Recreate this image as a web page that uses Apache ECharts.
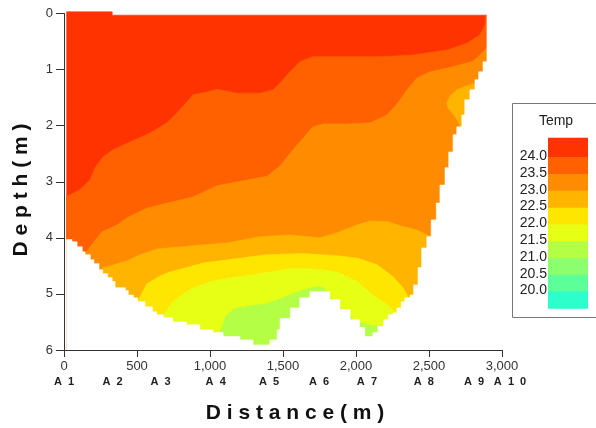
<!DOCTYPE html>
<html><head><meta charset="utf-8">
<script src="https://cdn.jsdelivr.net/npm/echarts@6/dist/echarts.min.js"></script>
<style>html,body{margin:0;padding:0;background:#fff}#c{width:596px;height:428px}</style>
</head><body><div id="c"></div>
<script>
// ---- axes / labels ----
const xTicks = [0, 500, 1000, 1500, 2000, 2500, 3000];
const depthTicks = [0, 1, 2, 3, 4, 5, 6];
const stationNames = ['A 1', 'A 2', 'A 3', 'A 4', 'A 5', 'A 6', 'A 7', 'A 8', 'A 9', 'A 1 0'];
const stationDist = [0, 332, 662, 1039, 1404, 1747, 2075, 2464, 2808, 3055];
const legendTitle = 'Temp';
const legendLabels = ['24.0', '23.5', '23.0', '22.5', '22.0', '21.5', '21.0', '20.5', '20.0'];
const bandColors = ['#FF3300', '#FF6000', '#FF8C00', '#FFB400', '#FFE600', '#E6FF14', '#B4FF46', '#8CFF6E', '#5CFF98', '#2DFFCC'];

// ---- section outline (distance m, depth m) ----
const surfaceDist = [18, 330, 330, 2897];
const surfaceDepth = [-0.03, -0.03, 0.03, 0.03];
const bottomDist = [18, 55, 90, 125, 145, 180, 205, 240, 265, 300, 330, 350, 420, 440, 475, 505, 555, 605, 635, 680,
  745, 840, 930, 1020, 1090, 1205, 1295, 1410, 1460, 1480, 1550, 1615, 1685, 1720, 1775, 1820, 1890, 1960, 2025, 2060,
  2115, 2150, 2190, 2220, 2255, 2280, 2310, 2335, 2370, 2395, 2425, 2450, 2485, 2515, 2550, 2575, 2610, 2635, 2665, 2690,
  2725, 2745, 2780, 2815, 2840, 2870, 2897, 2897];
const bottomDepth = [4.03, 4.07, 4.16, 4.25, 4.30, 4.39, 4.46, 4.57, 4.64, 4.71, 4.78, 4.89, 4.94, 5.02, 5.07, 5.14, 5.23, 5.32, 5.37, 5.42,
  5.50, 5.55, 5.64, 5.69, 5.76, 5.82, 5.91, 5.92, 5.82, 5.64, 5.44, 5.25, 5.07, 4.96, 4.96, 5.10, 5.28, 5.46, 5.60, 5.76,
  5.78, 5.69, 5.58, 5.46, 5.37, 5.34, 5.25, 5.14, 5.07, 5.02, 4.84, 4.53, 4.18, 3.98, 3.68, 3.38, 3.06, 2.75, 2.47, 2.16,
  2.02, 1.81, 1.54, 1.36, 1.18, 1.04, 0.86, 0.03];

// ---- isotherms (depth of each contour level along distance) ----
const iso240Dist = [18, 27, 110, 178, 212, 267, 336, 452, 589, 705, 774, 842, 884, 979, 1048, 1185, 1342, 1432, 1500, 1548,
  1616, 1705, 1938, 2164, 2390, 2623, 2760, 2849, 2884, 2890, 2950];
const iso240Depth = [3.25, 3.25, 3.14, 2.97, 2.75, 2.56, 2.43, 2.29, 2.13, 1.95, 1.77, 1.58, 1.45, 1.40, 1.35, 1.42, 1.42, 1.36, 1.18, 1.04,
  0.86, 0.77, 0.77, 0.77, 0.74, 0.65, 0.53, 0.38, 0.20, 0.03, 0.03];
const iso235Dist = [96, 144, 199, 260, 363, 432, 568, 658, 884, 1048, 1253, 1390, 1479, 1568, 1705, 1774, 1938, 2096, 2212, 2288,
  2349, 2418, 2507, 2664, 2801, 2849, 2897, 2986];
const iso235Depth = [4.43, 4.28, 4.09, 3.89, 3.77, 3.64, 3.47, 3.41, 3.27, 3.07, 2.97, 2.90, 2.72, 2.43, 2.02, 1.97, 1.97, 1.95, 1.81, 1.59,
  1.36, 1.15, 1.04, 0.95, 0.85, 0.74, 0.61, 0.56];
const lensDist = [2918, 2795, 2760, 2692, 2644, 2623, 2630, 2664, 2699, 2726, 2918];
const lensDepth = [1.18, 1.26, 1.29, 1.36, 1.47, 1.59, 1.68, 1.79, 1.92, 2.08, 2.08];
const iso230Dist = [233, 267, 315, 432, 521, 637, 884, 1116, 1342, 1548, 1753, 1870, 2007, 2096, 2212, 2322, 2418, 2486, 2527, 2610];
const iso230Depth = [4.68, 4.53, 4.50, 4.41, 4.30, 4.20, 4.14, 4.09, 3.98, 3.95, 4.00, 3.91, 3.77, 3.70, 3.71, 3.80, 3.86, 3.95, 3.98, 4.04];
const iso225Dist = [493, 521, 568, 658, 726, 952, 1185, 1390, 1637, 1870, 2007, 2144, 2253, 2322, 2356, 2404];
const iso225Depth = [5.19, 5.05, 4.82, 4.68, 4.61, 4.45, 4.37, 4.30, 4.28, 4.32, 4.36, 4.48, 4.69, 4.89, 5.05, 5.21];
const iso220Dist = [658, 685, 747, 829, 884, 1021, 1205, 1411, 1548, 1685, 1870, 2007, 2116, 2212, 2274, 2315];
const iso220Depth = [5.50, 5.37, 5.14, 4.98, 4.89, 4.77, 4.69, 4.61, 4.55, 4.55, 4.61, 4.78, 5.02, 5.19, 5.34, 5.46];
const iso215Dist = [1055, 1075, 1110, 1171, 1274, 1377, 1479, 1562, 1637, 1699, 1740, 1781, 1822, 1877, 1932, 1986, 2027, 2096, 2151, 2185, 2205];
const iso215Depth = [5.83, 5.64, 5.39, 5.26, 5.21, 5.18, 5.09, 5.00, 4.93, 4.89, 4.87, 4.89, 5.05, 5.19, 5.34, 5.46, 5.51, 5.55, 5.58, 5.66, 5.78];

// ---- build polygons ----
const BASE = 6;
function line(d, z) { return d.map((x, i) => [x, z[i]]); }
function stepped(points) {
  const out = [points[0]];
  for (let i = 1; i < points.length; i++) {
    const a = points[i - 1], b = points[i];
    const deeper = a[1] > b[1] ? a : b;
    const shallower = a[1] > b[1] ? b : a;
    out.push([deeper[0], shallower[1]]);
    out.push(b);
  }
  return out;
}
function below(d, z) {
  const p = line(d, z);
  p.push([d[d.length - 1], BASE]);
  p.push([d[0], BASE]);
  return p;
}
const bottomPts = stepped(line(bottomDist, bottomDepth));
const surfacePts = line(surfaceDist, surfaceDepth);
const layers = [
  { pts: surfacePts.concat(bottomPts.slice().reverse()), color: bandColors[0] },
  { pts: below(iso240Dist, iso240Depth), color: bandColors[1] },
  { pts: below(iso235Dist, iso235Depth), color: bandColors[2] },
  { pts: line(lensDist, lensDepth), color: bandColors[3] },
  { pts: below(iso230Dist, iso230Depth), color: bandColors[3] },
  { pts: below(iso225Dist, iso225Depth), color: bandColors[4] },
  { pts: below(iso220Dist, iso220Depth), color: bandColors[5] },
  { pts: below(iso215Dist, iso215Depth), color: bandColors[6] },
  { pts: [[bottomDist[0], BASE]].concat(bottomPts, [[bottomDist[bottomDist.length - 1], -0.1], [3020, -0.1], [3020, BASE]]), color: '#ffffff' }
];

const FONT = '"Liberation Sans", Arial, sans-serif';
const chart = echarts.init(document.getElementById('c'), null, { renderer: 'canvas' });
chart.setOption({
  animation: false,
  backgroundColor: '#ffffff',
  grid: { left: 64, right: 94, top: 13.5, bottom: 78 },
  xAxis: {
    type: 'value', min: 0, max: 3000, interval: 500, position: 'bottom', z: 10,
    axisLine: { onZero: false, lineStyle: { color: '#333', width: 1 } },
    axisTick: { show: true, length: 7, customValues: xTicks, lineStyle: { color: '#333' } },
    axisLabel: { color: '#333', fontSize: 13, fontFamily: FONT, margin: 10, customValues: xTicks,
      formatter: v => v.toLocaleString('en-US') },
    splitLine: { show: false }
  },
  yAxis: {
    type: 'value', min: 0, max: 6, interval: 1, inverse: true, z: 10,
    axisLine: { show: true, onZero: false, lineStyle: { color: '#333', width: 1 } },
    axisTick: { show: true, length: 8, customValues: depthTicks, lineStyle: { color: '#333' } },
    axisLabel: { color: '#333', fontSize: 13, fontFamily: FONT, margin: 11, customValues: depthTicks },
    splitLine: { show: false }
  },
  series: [{
    type: 'custom', coordinateSystem: 'cartesian2d', clip: false, silent: true,
    data: [[0, 0]],
    renderItem: (params, api) => ({
      type: 'group',
      children: layers.map(L => ({
        type: 'polygon',
        shape: { points: L.pts.map(p => api.coord(p)) },
        style: { fill: L.color, stroke: L.color, lineWidth: 0.6 }
      }))
    })
  }]
});

// ---- graphics: titles, stations, legend ----
const g = [];
g.push({ type: 'text', x: 21, y: 190, rotation: Math.PI / 2,
  style: { text: 'D e p t h ( m )', font: 'bold 21px ' + FONT, fill: '#111', align: 'center', verticalAlign: 'middle' } });
g.push({ type: 'text', x: 295, y: 413,
  style: { text: 'D i s t a n c e ( m )', font: 'bold 21px ' + FONT, fill: '#111', align: 'center', verticalAlign: 'middle' } });
stationNames.forEach((n, i) => {
  const px = chart.convertToPixel({ xAxisIndex: 0 }, stationDist[i]);
  g.push({ type: 'text', x: px, y: 382,
    style: { text: n.replace(/ /g, '  '), font: 'bold 11px ' + FONT, fill: '#222', align: 'center', verticalAlign: 'middle' } });
});
// legend box
g.push({ type: 'rect', shape: { x: 512.5, y: 103.5, width: 100, height: 214 }, style: { fill: '#fff', stroke: '#777', lineWidth: 1 } });
g.push({ type: 'text', x: 556, y: 121, style: { text: legendTitle, font: '14px ' + FONT, fill: '#222', align: 'center', verticalAlign: 'middle' } });
const swTop = 137.7, swFirst = 19.6, swH = 16.78, swX = 548, swW = 40;
bandColors.forEach((c, i) => {
  const y0 = i === 0 ? swTop : swTop + swFirst + (i - 1) * swH;
  const h = i === 0 ? swFirst : swH;
  g.push({ type: 'rect', shape: { x: swX, y: y0, width: swW, height: h + 0.5 }, style: { fill: c } });
});
legendLabels.forEach((t, i) => {
  const y = swTop + swFirst + i * swH - 1;
  g.push({ type: 'text', x: 547, y: y, style: { text: t, font: '14px ' + FONT, fill: '#222', align: 'right', verticalAlign: 'middle' } });
});
chart.setOption({ graphic: g });
</script>
</body></html>
